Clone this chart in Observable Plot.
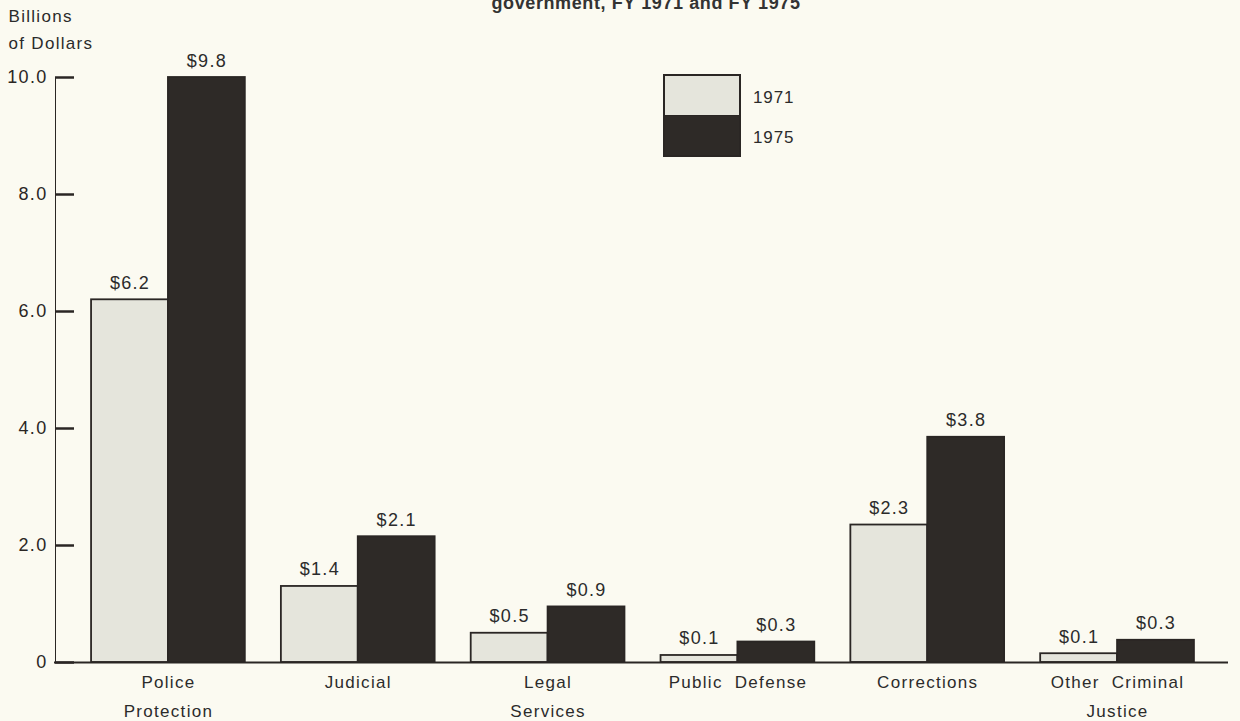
<!DOCTYPE html>
<html><head><meta charset="utf-8">
<script src="https://cdn.jsdelivr.net/npm/d3@7"></script>
<script src="https://cdn.jsdelivr.net/npm/@observablehq/plot@0.6"></script>
<style>
html,body{margin:0;padding:0;background:#fbfaf1;}
#wrap{position:relative;width:1240px;height:721px;overflow:hidden;font-family:"Liberation Sans",Arial,sans-serif;color:#2b2b2b;background:#fbfaf1;}
#wrap svg{position:absolute;left:0;top:0;}
#wrap svg g[aria-label^="y-axis"] path, #wrap svg g[aria-label^="y-axis"] line{stroke-width:2.5px;}
#title{position:absolute;left:646px;transform:translateX(-50%);top:-7px;line-height:20px;font-size:18px;font-weight:600;letter-spacing:0.6px;white-space:nowrap;color:#333;}
#legend{position:absolute;left:663px;top:74px;}
.lg-row{display:flex;align-items:center;}
.lg-box{width:74px;height:39px;border:2px solid #2a2624;box-sizing:content-box;}
.lg-row:first-child .lg-box{border-bottom-width:1px;}
.lg-row:last-child .lg-box{border-top-width:0;}
.lg-label{margin-left:12px;font-size:17px;letter-spacing:0.9px;color:#2b2b2b;}
.lg-row:first-child .lg-label{padding-top:6px;}
.lg-row:last-child .lg-label{padding-top:2px;}
</style></head><body><div id="wrap"></div>
<script>
const categories = ["Police Protection","Judicial","Legal Services","Public Defense","Corrections","Other Criminal Justice"];
const categoryLabels = ["Police\nProtection","Judicial","Legal\nServices","Public  Defense","Corrections","Other  Criminal\nJustice"];
const years = ["1971","1975"];
const values1971 = [6.2, 1.3, 0.5, 0.12, 2.35, 0.15];
const values1975 = [10.0, 2.15, 0.95, 0.35, 3.85, 0.38];
const labels1971 = ["$6.2","$1.4","$0.5","$0.1","$2.3","$0.1"];
const labels1975 = ["$9.8","$2.1","$0.9","$0.3","$3.8","$0.3"];
const yTicks = [0, 2, 4, 6, 8, 10];
const yTickLabels = ["0","2.0","4.0","6.0","8.0","10.0"];
const yLabel = "Billions\nof Dollars";
const title = "government, FY 1971 and FY 1975";
const colors = ["#e5e5dc", "#2e2a27"];
const ink = "#2a2624";

const W = 1240, H = 721, mL = 55, mR = 10, mT = 77, mB = 59, pad = 0.19;
const bw = d3.scaleBand(categories, [mL, W - mR]).padding(pad).bandwidth();
const half = bw / 2;

const data = categories.map((c, i) => ({
  category: c, label: categoryLabels[i],
  v1971: values1971[i], v1975: values1975[i],
  l1971: labels1971[i], l1975: labels1975[i]
}));

const chart = Plot.plot({
  width: W, height: H,
  marginLeft: mL, marginRight: mR, marginTop: mT, marginBottom: mB,
  style: {background: "transparent", fontFamily: "'Liberation Sans', Arial, sans-serif", fontSize: "18px", letterSpacing: "1.3px", color: ink},
  x: {domain: categories, padding: pad, round: false, axis: null},
  y: {domain: [0, 10], ticks: yTicks, tickFormat: d => yTickLabels[yTicks.indexOf(d)], line: true, tickSize: -19, tickPadding: 27, label: null},
  marks: [
    Plot.barY(data, {x: "category", y: "v1971", insetRight: half, fill: colors[0], stroke: ink, strokeWidth: 1.8}),
    Plot.barY(data, {x: "category", y: "v1975", insetLeft: half, fill: colors[1], stroke: ink, strokeWidth: 1.8}),
    Plot.text(data, {x: "category", y: "v1971", text: "l1971", dx: -half / 2, dy: -11, lineAnchor: "bottom", fontSize: 18, fill: "#2b2b2b"}),
    Plot.text(data, {x: "category", y: "v1975", text: "l1975", dx: half / 2, dy: -11, lineAnchor: "bottom", fontSize: 18, fill: "#2b2b2b"}),
    Plot.ruleY([0], {insetLeft: -1, insetRight: 2, stroke: ink, strokeWidth: 2}),
    Plot.text(data, {x: "category", text: "label", frameAnchor: "bottom", lineAnchor: "top", dy: 5, lineHeight: 1.7, fontSize: 17, fill: "#2b2b2b"}),
    Plot.text([yLabel], {text: d => d, frameAnchor: "top-left", textAnchor: "start", lineAnchor: "top", dx: -47, dy: -74, lineHeight: 1.55, fontSize: 17, fill: "#2b2b2b"})
  ]
});

const wrap = document.getElementById("wrap");
wrap.appendChild(chart);

const t = document.createElement("div");
t.id = "title"; t.textContent = title;
wrap.appendChild(t);

const lg = document.createElement("div");
lg.id = "legend";
years.forEach((y, i) => {
  const row = document.createElement("div"); row.className = "lg-row";
  const box = document.createElement("div"); box.className = "lg-box"; box.style.background = colors[i];
  const lab = document.createElement("span"); lab.className = "lg-label"; lab.textContent = y;
  row.appendChild(box); row.appendChild(lab); lg.appendChild(row);
});
wrap.appendChild(lg);
</script>
</body></html>
